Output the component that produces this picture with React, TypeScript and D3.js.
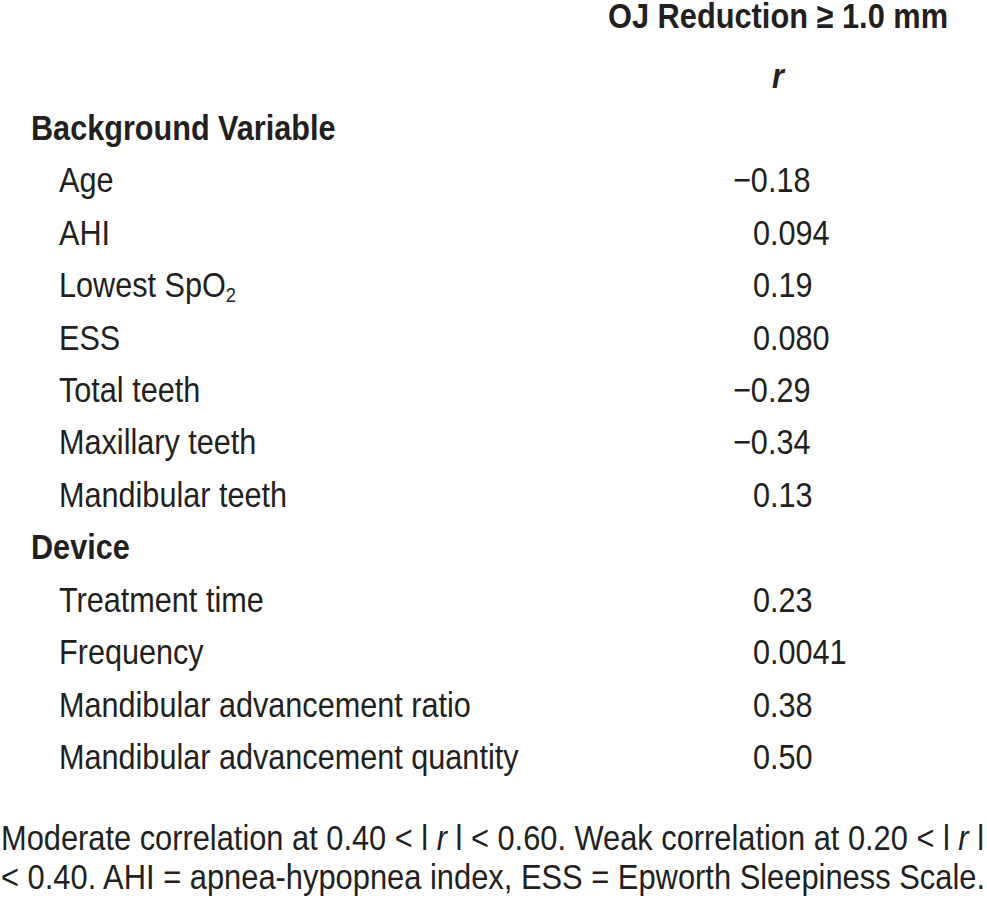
import React from "react";
import * as d3 from "d3";

const headerTitle = "OJ Reduction ≥ 1.0 mm";
const columnLabel = "r";
const sections = ["Background Variable", "Device"];
const backgroundVars = ["Age", "AHI", "Lowest SpO", "ESS", "Total teeth", "Maxillary teeth", "Mandibular teeth"];
const backgroundValues = ["−0.18", "0.094", "0.19", "0.080", "−0.29", "−0.34", "0.13"];
const deviceVars = ["Treatment time", "Frequency", "Mandibular advancement ratio", "Mandibular advancement quantity"];
const deviceValues = ["0.23", "0.0041", "0.38", "0.50"];
const footnoteLines = [
  "Moderate correlation at 0.40 < l r l < 0.60. Weak correlation at 0.20 < l r l",
  "< 0.40. AHI = apnea-hypopnea index, ESS = Epworth Sleepiness Scale.",
];

type Row = { kind: "section" | "item"; label: string; value?: string; sub?: string };

const rows: Row[] = [
  { kind: "section", label: sections[0] },
  ...backgroundVars.map((l, i) => ({ kind: "item" as const, label: l, value: backgroundValues[i], sub: l === "Lowest SpO" ? "2" : undefined })),
  { kind: "section", label: sections[1] },
  ...deviceVars.map((l, i) => ({ kind: "item" as const, label: l, value: deviceValues[i] })),
];

const W = 987;
const H = 902;
const FONT = "'Liberation Sans Narrow', 'Arial Narrow', 'Liberation Sans', Arial, sans-serif";
const FS = 35;
const SX = 0.875; // horizontal condensing

export default function App() {
  const y = d3
    .scalePoint<number>()
    .domain(rows.map((_, i) => i))
    .range([140, 769]);
  const valueX = 753;
  const negX = 733;

  return (
    <svg
      width={W}
      height={H}
      style={{ position: "absolute", left: 0, top: 0, background: "#fff" }}
      fontFamily={FONT}
      fill="#231f20"
    >
      <rect width={W} height={H} fill="#fff" />
      <text x={608} y={28} fontSize={FS} fontWeight="bold" textLength={340} lengthAdjust="spacingAndGlyphs">
        {headerTitle}
      </text>
      <g transform={`scale(${SX},1)`}>
        <text x={778 / SX} y={88} fontSize={FS} fontWeight="bold" fontStyle="italic" textAnchor="middle">
          {columnLabel}
        </text>
        {rows.map((r, i) => {
          const base = y(i)!;
          if (r.kind === "section") {
            return (
              <text key={i} x={31 / SX} y={base} fontSize={FS} fontWeight="bold">
                {r.label}
              </text>
            );
          }
          const neg = r.value!.startsWith("−");
          return (
            <g key={i}>
              <text x={59 / SX} y={base} fontSize={FS}>
                {r.label}
                {r.sub && (
                  <tspan fontSize={21} dy={5}>
                    {r.sub}
                  </tspan>
                )}
              </text>
              <text x={(neg ? negX : valueX) / SX} y={base} fontSize={FS}>
                {r.value}
              </text>
            </g>
          );
        })}
      </g>
      {footnoteLines.map((line, i) => {
        const parts = line.split(" r ");
        return (
          <text
            key={i}
            x={1}
            y={850 + i * 39}
            fontSize={FS}
            textLength={i === 0 ? 983 : 984}
            lengthAdjust="spacingAndGlyphs"
          >
            {parts.map((p, j) => (
              <React.Fragment key={j}>
                {j > 0 && <tspan fontStyle="italic"> r </tspan>}
                {p}
              </React.Fragment>
            ))}
          </text>
        );
      })}
    </svg>
  );
}
